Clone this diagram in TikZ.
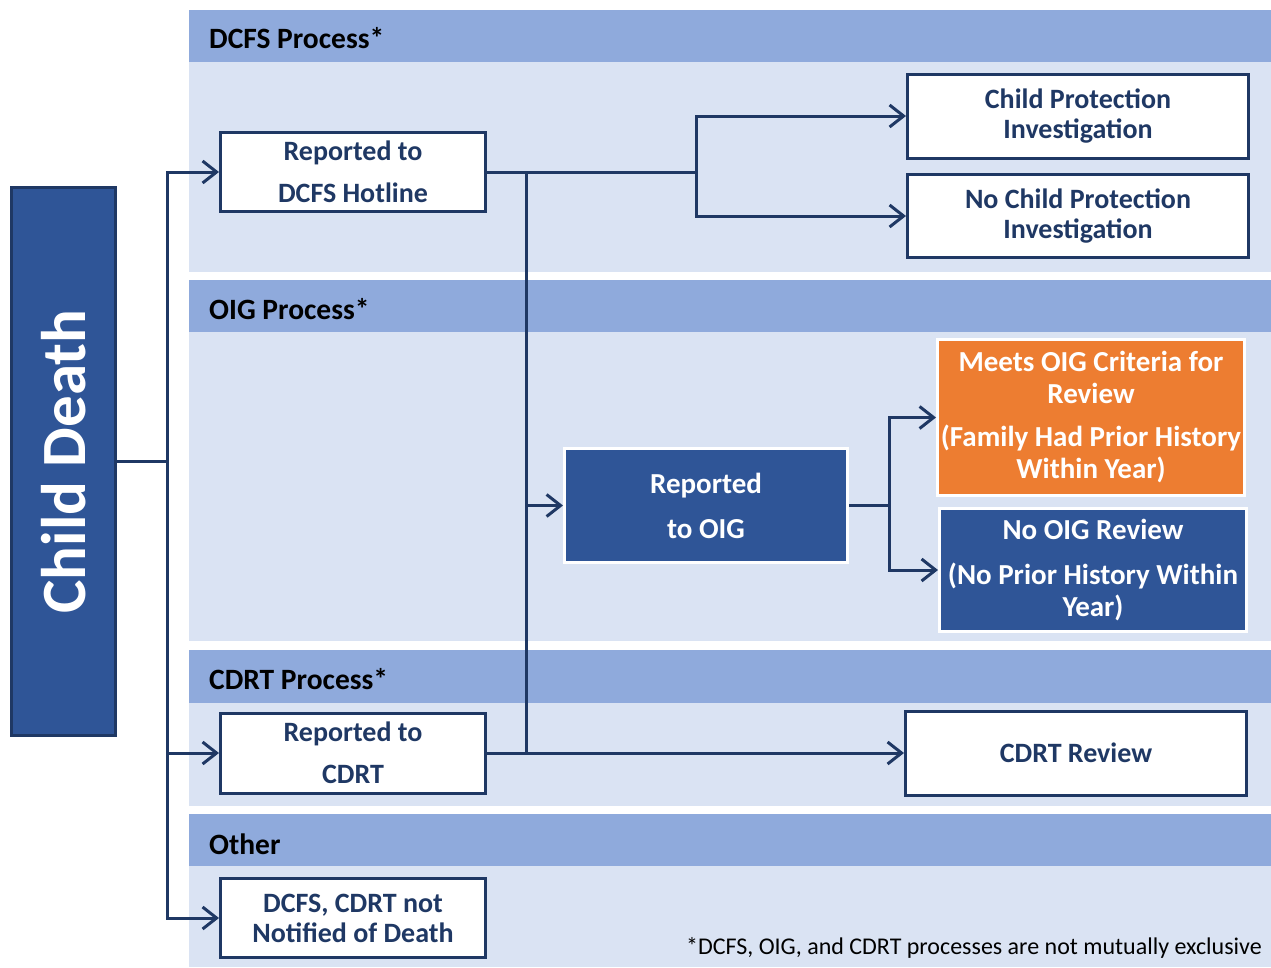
\documentclass[tikz,border=0pt]{standalone}
\usepackage{fontspec}
\setmainfont{Carlito}
\usetikzlibrary{arrows.meta}
\definecolor{navy}{HTML}{1F3864}
\definecolor{fillblue}{HTML}{2F5597}
\definecolor{band}{HTML}{8FAADC}
\definecolor{light}{HTML}{DAE3F3}
\definecolor{orng}{HTML}{ED7D31}
\tikzset{
  wbox/.style={draw=navy, line width=3pt, fill=white, text=navy, align=center, inner sep=0pt, font=\bfseries\fontsize{28}{30}\selectfont},
  bbox/.style={draw=white, line width=3pt, fill=fillblue, text=white, align=center, inner sep=0pt, font=\bfseries\fontsize{29}{32}\selectfont},
  obox/.style={draw=white, line width=3pt, fill=orng, text=white, align=center, inner sep=0pt, font=\bfseries\fontsize{29}{32}\selectfont},
  hdr/.style={anchor=west, text=black, font=\bfseries\fontsize{29.5}{30}\selectfont, inner sep=0pt},
  conn/.style={draw=navy, line width=3pt},
  arr/.style={conn, -{Straight Barb[length=14pt,width=22pt,line width=3pt]}},
}
\begin{document}
\begin{tikzpicture}[x=1pt,y=-1pt]
\useasboundingbox (0,0) rectangle (1271,967);
\fill[white] (0,0) rectangle (1271,967);
% section bands
\fill[band] (189,10) rectangle (1271,62);
\fill[light] (189,62) rectangle (1271,272);
\fill[band] (189,280) rectangle (1271,332);
\fill[light] (189,332) rectangle (1271,641);
\fill[band] (189,650) rectangle (1271,703);
\fill[light] (189,703) rectangle (1271,806);
\fill[band] (189,814) rectangle (1271,866);
\fill[light] (189,866) rectangle (1271,967);
\node[hdr] (h1) at (209,38) {DCFS Process*};
\node[hdr] (h2) at (209,309) {OIG Process*};
\node[hdr] (h3) at (209,679) {CDRT Process*};
\node[hdr] (h4) at (209,844) {Other};
% nodes
\node[draw=navy, line width=3pt, fill=fillblue, minimum width=104pt, minimum height=548pt, inner sep=0pt] (cd) at (63.5,461.5) {};
\node[rotate=90, text=white, font=\bfseries\fontsize{63}{63}\selectfont] (cdt) at (cd.center) {Child Death};
\node[wbox, minimum width=265pt, minimum height=79pt, font=\bfseries\fontsize{28}{42}\selectfont] (hot) at (353,172) {Reported to\\DCFS Hotline};
\node[wbox, minimum width=341pt, minimum height=84pt] (cpi) at (1078,116) {Child Protection\\Investigation};
\node[wbox, minimum width=341pt, minimum height=83pt] (ncpi) at (1078,216) {No Child Protection\\Investigation};
\node[bbox, minimum width=283pt, minimum height=114pt, font=\bfseries\fontsize{29}{45}\selectfont] (oig) at (706,505.5) {Reported\\to OIG};
\node[obox, minimum width=307pt, minimum height=156pt] (meets) at (1091,417.5) {Meets OIG Criteria for\\Review\\[11pt](Family Had Prior History\\Within Year)};
\node[bbox, minimum width=307pt, minimum height=123pt] (noig) at (1093,570) {No OIG Review\\[13pt](No Prior History Within\\Year)};
\node[wbox, minimum width=265pt, minimum height=80pt, font=\bfseries\fontsize{28}{42}\selectfont] (cdrt) at (353,753) {Reported to\\CDRT};
\node[wbox, minimum width=341pt, minimum height=84pt] (crev) at (1076,753) {CDRT Review};
\node[wbox, minimum width=265pt, minimum height=79pt] (oth) at (353,918) {DCFS, CDRT not\\Notified of Death};
\node[anchor=east, inner sep=0pt, text=black, font=\fontsize{24}{26}\selectfont] (fn) at (1262,948) {*DCFS, OIG, and CDRT processes are not mutually exclusive};
% connectors
\coordinate (tk) at (167,461.5);
\draw[conn] (cd.east) -- (tk);
\draw[arr] (tk) |- (hot.west);
\draw[arr] (tk) |- (cdrt.west);
\draw[arr] (tk) |- (oth.west);
\coordinate (hb) at (696,172);
\draw[conn] (hot.east) -- (hb);
\draw[arr] (hb) |- (cpi.west);
\draw[arr] (hb) |- (ncpi.west);
\coordinate (v1) at (526,172);
\coordinate (v2) at (526,753);
\draw[conn] (v1) -- (v2);
\draw[arr] (v1 |- oig.west) -- (oig.west);
\draw[arr] (cdrt.east) -- (crev.west);
\coordinate (ob) at (889,505.5);
\draw[conn] (oig.east) -- (ob);
\draw[arr] (ob) |- (meets.west);
\draw[arr] (ob) |- (noig.west);
\end{tikzpicture}
\end{document}
